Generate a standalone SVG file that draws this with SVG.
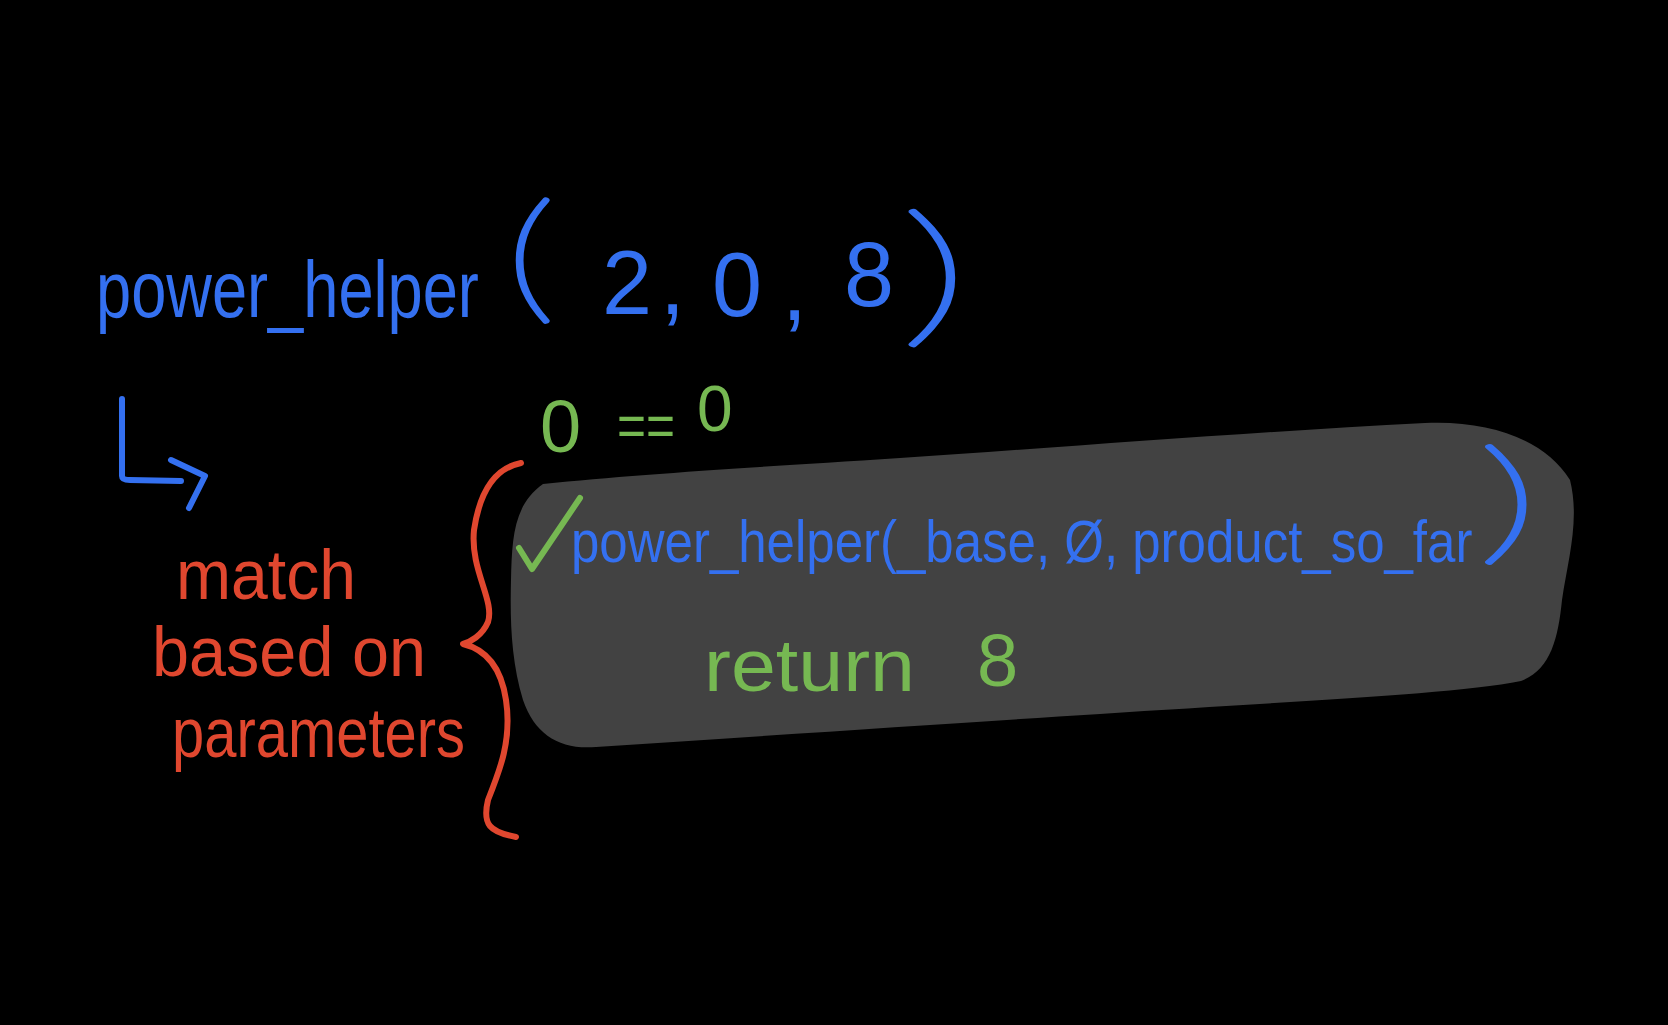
<svg xmlns="http://www.w3.org/2000/svg" width="1668" height="1025" viewBox="0 0 1668 1025">
<style>
.t{font-family:"Liberation Sans","DejaVu Sans",sans-serif;}
.thin{font-family:"Lato","Open Sans","Liberation Sans",sans-serif;font-weight:100;stroke:#3470f0;stroke-linejoin:round;stroke-linecap:round;}
.blue{fill:#3470f0;}
.red{fill:#e0472f;}
.green{fill:#76b852;}
.sb{fill:none;stroke:#3470f0;stroke-width:6;stroke-linecap:round;stroke-linejoin:round;}
.sr{fill:none;stroke:#e0472f;stroke-width:6;stroke-linecap:round;stroke-linejoin:round;}
.sg{fill:none;stroke:#76b852;stroke-width:6;stroke-linecap:round;stroke-linejoin:round;}
</style>
<rect x="0" y="0" width="1668" height="1025" fill="#000"/>
<g id="call">
<text class="t blue" transform="translate(96,317) scale(0.79,1)" x="0" y="0" font-size="80">power_helper</text>
<text class="thin blue" transform="translate(506,305) scale(1.4,1)" x="0" y="0" font-size="140" stroke-width="4">(</text>
<text class="t blue" x="602" y="314" font-size="90">2</text>
<text class="t blue" x="660" y="314" font-size="90">,</text>
<text class="t blue" x="712" y="316" font-size="90">0</text>
<text class="t blue" x="782" y="320" font-size="90">,</text>
<text class="t blue" x="844" y="306" font-size="90">8</text>
<text class="thin blue" transform="translate(900,327) scale(1.8,1)" x="0" y="0" font-size="155" stroke-width="3.5">)</text>
</g>
<g id="condition">
<text class="t green" x="540" y="452" font-size="74">0</text>
<text class="t green" x="617" y="446" font-size="60" textLength="58" lengthAdjust="spacingAndGlyphs">==</text>
<text class="t green" x="697" y="431" font-size="64">0</text>
</g>
<g id="match-box">
<path d="M543,484 C640,474 745,468 900,458 C1064,447 1250,432 1425,423 C1490,420 1545,440 1570,480 C1580,520 1568,560 1562,600 C1558,640 1550,670 1521,681 C1450,695 1277,702 1100,714 C957,723 780,735 596,747 C560,750 535,735 523,700 C511,660 510,620 511,580 C512,540 513,505 543,484 Z" fill="#424242"/>
<path class="sg" d="M519,548 L532,569 L580,498" stroke-width="5"/>
<text class="t blue" transform="translate(571,562) scale(0.85,1)" x="0" y="0" font-size="60">power_helper(_base, Ø, product_so_far</text>
<text class="thin blue" transform="translate(1478,547) scale(1.8,1)" x="0" y="0" font-size="135" stroke-width="3.5">)</text>
<text class="t green" x="704" y="691" font-size="75" textLength="211" lengthAdjust="spacingAndGlyphs">return</text>
<text class="t green" x="977" y="686" font-size="74">8</text>
</g>
<g id="label">
<text class="t red" x="176" y="599" font-size="70" textLength="180" lengthAdjust="spacingAndGlyphs">match</text>
<text class="t red" x="152" y="676" font-size="70" textLength="274" lengthAdjust="spacingAndGlyphs">based on</text>
<text class="t red" x="172" y="757" font-size="70" textLength="293" lengthAdjust="spacingAndGlyphs">parameters</text>
</g>
<g id="connectors">
<path class="sb" d="M122,399 L122,476 Q122,480 130,480 L181,481"/>
<path class="sb" d="M171,460 L205,476 L189,508"/>
<path class="sr" d="M521,463 C495,468 480,490 474,530 C470,570 495,600 488,622 C482,636 470,642 463,644 C480,648 500,660 506,700 C512,740 500,770 488,800 C482,825 490,832 516,837"/>
</g>
</svg>
